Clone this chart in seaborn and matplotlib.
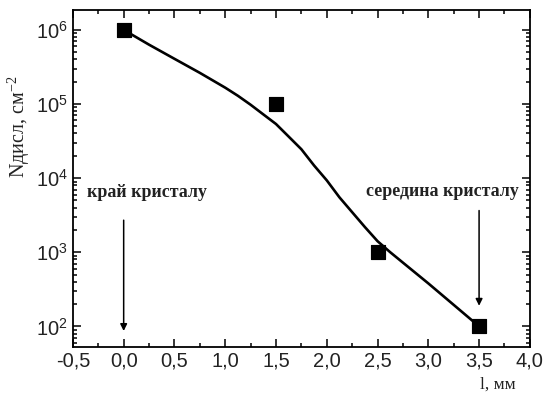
import numpy as np
import pandas as pd
import matplotlib
matplotlib.use("Agg")
import matplotlib.pyplot as plt
import seaborn as sns
from matplotlib.ticker import LogLocator, MultipleLocator, NullFormatter

# measured points
dist_mm = [0.0, 1.5, 2.5, 3.5]
disl_density = [1.0e6, 1.0e5, 1.0e3, 1.0e2]

# fitted curve
fit_x = [0.0, 0.25, 0.5, 0.75, 1.0, 1.125, 1.25, 1.375, 1.5, 1.625, 1.75, 1.875,
         2.0, 2.125, 2.25, 2.375, 2.5, 2.625, 2.75, 3.0, 3.25, 3.5]
fit_y = [1.0e6, 6.31e5, 4.07e5, 2.63e5, 1.66e5, 1.29e5, 9.77e4, 7.24e4, 5.37e4, 3.63e4,
         2.45e4, 1.48e4, 9.33e3, 5.50e3, 3.47e3, 2.19e3, 1.41e3, 1.0e3, 7.24e2,
         3.80e2, 1.95e2, 1.0e2]

x_ticks = [-0.5, 0.0, 0.5, 1.0, 1.5, 2.0, 2.5, 3.0, 3.5, 4.0]
x_tick_labels = ["-0,5", "0,0", "0,5", "1,0", "1,5", "2,0", "2,5", "3,0", "3,5", "4,0"]

points = pd.DataFrame({"l": dist_mm, "N": disl_density})
fit = pd.DataFrame({"l": fit_x, "N": fit_y})

sns.set_style("ticks")
plt.rcParams["font.family"] = ["Liberation Sans", "DejaVu Sans"]
plt.rcParams["mathtext.default"] = "regular"

fig = plt.figure(figsize=(5.44, 3.94), dpi=100)
ax = fig.add_axes([0.134, 0.119, 0.840, 0.856])

sns.lineplot(data=fit, x="l", y="N", color="black", linewidth=1.9, ax=ax)
sns.scatterplot(data=points, x="l", y="N", marker="s", s=110, color="black",
                edgecolor="black", zorder=3, ax=ax)

ax.set_yscale("log")
ax.set_xlim(-0.5, 4.0)
ax.set_ylim(10 ** 1.72, 10 ** 6.27)

ax.set_xticks(x_ticks)
ax.set_xticklabels(x_tick_labels)
ax.xaxis.set_minor_locator(MultipleLocator(0.25))
ax.yaxis.set_major_locator(LogLocator(base=10, numticks=10))
ax.yaxis.set_minor_locator(LogLocator(base=10, subs=np.arange(2, 10), numticks=20))
ax.yaxis.set_minor_formatter(NullFormatter())

ax.tick_params(which="both", direction="in", top=True, right=True, width=1.1,
               colors="black", labelcolor="#222222", labelsize=14.5)
ax.tick_params(which="major", length=6)
ax.tick_params(which="minor", length=3)
for side in ax.spines.values():
    side.set_linewidth(1.3)
    side.set_color("black")

ax.set_xlabel("")
ax.set_ylabel("")
fig.text(0.035, 0.678, r"Nдисл, см$^{-2}$", fontsize=14.5, family="Liberation Serif",
         rotation=90, ha="center", va="center", color="#222222")
fig.text(0.947, 0.023, "l, мм", fontsize=12.5, family="Liberation Serif",
         ha="right", va="center", color="#222222")

# annotations with arrows
ax.text(-0.36, 10 ** 3.80, "край кристалу", fontsize=12.9, family="Liberation Serif",
        fontweight="bold", ha="left", va="center", color="#222222")
ax.annotate("", xy=(0.0, 10 ** 1.9), xytext=(0.0, 10 ** 3.47),
            arrowprops=dict(arrowstyle="-|>", color="black", lw=1.1,
                            mutation_scale=10))
ax.text(2.39, 10 ** 3.82, "середина кристалу", fontsize=12.9, family="Liberation Serif",
        fontweight="bold", ha="left", va="center", color="#222222")
ax.annotate("", xy=(3.5, 10 ** 2.24), xytext=(3.5, 10 ** 3.6),
            arrowprops=dict(arrowstyle="-|>", color="black", lw=1.1,
                            mutation_scale=10))

fig.savefig("out.png", dpi=100)
